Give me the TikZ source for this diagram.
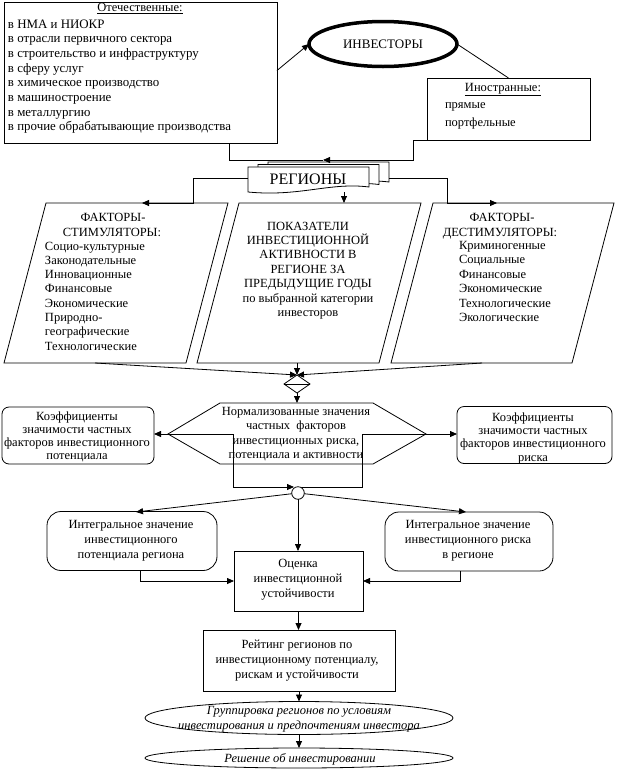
\documentclass[tikz,border=0pt]{standalone}
\usepackage{fontspec}
\setmainfont{Liberation Serif}
\usetikzlibrary{arrows.meta,shapes.geometric}
\begin{document}
\begin{tikzpicture}[x=1pt,y=-1pt,
  every node/.style={inner sep=0pt, outer sep=0pt},
  lw/.style={line width=0.8pt},
  box/.style={draw, lw, fill=white},
  rbox/.style={box, rounded corners=7pt},
  ibox/.style={box, rounded corners=14pt},
  t/.style={anchor=base, font=\fontsize{12.5}{14.5}\selectfont},
  tl/.style={anchor=base west, font=\fontsize{12.5}{14.5}\selectfont},
  tld/.style={anchor=base west, font=\fontsize{12.9}{14.5}\selectfont},
  ti/.style={anchor=base, font=\fontsize{12.5}{14.5}\selectfont\itshape},
  arr/.style={lw, -{Triangle[length=7pt,width=6pt]}},
  con/.style={lw}
]
\useasboundingbox (0,0) rectangle (618,777);

% ---------- domestic investors
\node[box, minimum width=273, minimum height=141] (dom) at (140.5,72.5) {};
\node[t] (domt) at (140,11.5) {\underline{Отечественные:}};
\foreach \s [count=\i] in {в НМА и НИОКР,в отрасли первичного сектора,в строительство и инфраструктуру,в сферу услуг,в химическое производство,в машиностроение,в металлургию,в прочие обрабатывающие производства}
  \node[tld] (d\i) at (8,{28+14.7*(\i-1)}) {\s};

% ---------- investors
\node[draw, ellipse, line width=3.5pt, minimum width=148, minimum height=45, font=\fontsize{13}{15}\selectfont] (inv) at (383,44) {ИНВЕСТОРЫ};

% ---------- foreign investors
\node[box, minimum width=163, minimum height=62] (frn) at (508.5,109) {};
\node[t] (frt) at (503,91.5) {\underline{Иностранные:}};
\node[tl] (fr1) at (445,108) {прямые};
\node[tl] (fr2) at (445,126.5) {портфельные};

\draw[arr] ([yshift=2]dom.east) -- (inv.west);
\draw[con] (inv.east) -- (frn.north);

% ---------- regions (multi-document)
\foreach \d in {20,10,0}
  \draw[box, shift={(\d,-\d/4)}] (248,167) -- (369,167) -- (369,187)
    .. controls (330,182) and (300,197) .. (248,192) -- cycle;
\node[font=\fontsize{16}{18}\selectfont] (reg) at (308,179) {РЕГИОНЫ};

\coordinate (domS) at (229,143);
\coordinate (regin) at (323,160);
\draw[con] (domS) |- (regin);
\draw[arr] (frn.south west) -| (413,160) -- (regin);

% ---------- parallelograms
\draw[box] (46,203) -- (228,203) -- (186,363) -- (4,363) -- cycle;
\draw[box] (239,203) -- (421,203) -- (379,363) -- (197,363) -- cycle;
\draw[box] (433,203) -- (614,203) -- (572,363) -- (391,363) -- cycle;

\coordinate (regW) at (248,178);
\coordinate (regS) at (344,192);
\coordinate (regE) at (389,178);
\draw[arr] (regW) -| (193,203) -- (142,203);
\draw[arr] (regS) -- (344,203);
\draw[arr] (regE) -| (447,203) -- (497,203);

% left parallelogram text
\node[t] (pl1) at (113,221) {ФАКТОРЫ-};
\node[t] (pl2) at (112,236) {СТИМУЛЯТОРЫ:};
\foreach \s [count=\i] in {Социо-культурные,Законодательные,Инновационные,Финансовые,Экономические,Природно-,географические,Технологические}
  \node[tl] (pli\i) at (45,{250+14.3*(\i-1)}) {\s};

% middle parallelogram text
\foreach \s [count=\i] in {ПОКАЗАТЕЛИ,ИНВЕСТИЦИОННОЙ,АКТИВНОСТИ В,РЕГИОНЕ ЗА,ПРЕДЫДУЩИЕ ГОДЫ,по выбранной категории,инвесторов}
  \node[t] (pm\i) at (308,{230+14.4*(\i-1)}) {\s};

% right parallelogram text
\node[t] (pr1) at (502,221) {ФАКТОРЫ-};
\node[t] (pr2) at (500,236) {ДЕСТИМУЛЯТОРЫ:};
\foreach \s [count=\i] in {Криминогенные,Социальные,Финансовые,Экономические,Технологические,Экологические}
  \node[tl] (pri\i) at (459,{249+14.5*(\i-1)}) {\s};

% ---------- sort diamond
\coordinate (diaT) at (297,375);
\coordinate (diaB) at (297,393);
\draw[arr] (95,363) -- (diaT);
\draw[arr] (297,363) -- (diaT);
\draw[arr] (482,363) -- (diaT);
\draw[box] (diaT) -- (310,384) -- (diaB) -- (284,384) -- cycle;
\draw[con] (284,384) -- (310,384);

% ---------- hexagon
\coordinate (hexN) at (297,403);
\coordinate (hexW) at (168,434);
\coordinate (hexE) at (426,434);
\draw[box] (220,403) -- (373,403) -- (hexE) -- (373,464) -- (220,464) -- (hexW) -- cycle;
\draw[arr] (diaB) -- (hexN);

% ---------- coefficient boxes
\node[rbox, minimum width=152, minimum height=57] (cL) at (78,435.5) {};
\node[rbox, minimum width=155, minimum height=57] (cR) at (534.5,435) {};
\draw[arr] (hexW) -- (hexW -| cL.east);
\draw[arr] (hexE) -- (hexE -| cR.west);

\draw[arr] (hexW) -| (233,487) -- (294,487);
\draw[con] (hexE) -| (362,487) -- (298,487);

\node[t] (h1) at (296,415) {Нормализованные значения};
\node[t] (h2) at (296,429.5) {частных~ факторов};
\node[t] (h3) at (296,444) {инвестиционных риска,};
\node[t] (h4) at (296,458.5) {потенциала и активности};

\foreach \s [count=\i] in {Коэффициенты,значимости частных,факторов инвестиционного,потенциала}
  \node[t] (cl\i) at (77,{420+13.3*(\i-1)}) {\s};
\foreach \s [count=\i] in {Коэффициенты,значимости частных,факторов инвестиционного,риска}
  \node[t] (cr\i) at (533,{421+13.4*(\i-1)}) {\s};

% ---------- junction circle and integral values
\node[ibox, minimum width=170, minimum height=59] (iL) at (132,541) {};
\node[ibox, minimum width=168, minimum height=59] (iR) at (469,541.5) {};
\node[box, minimum width=129, minimum height=60] (otc) at (298.5,581) {};
\node[draw, lw, fill=white, circle, minimum size=12.6] (circ) at (298,493) {};
\draw[arr] (circ) -- (136,512);
\draw[arr] (circ) -- (466,512);
\draw[arr] (circ) -- (circ |- otc.north);

\draw[arr] ([xshift=8]iL.south) |- (otc.west);
\draw[arr] ([xshift=-9]iR.south) |- (otc.east);

\foreach \s [count=\i] in {Интегральное значение,инвестиционного,потенциала региона}
  \node[t] (il\i) at (131,{528+15*(\i-1)}) {\s};
\foreach \s [count=\i] in {Интегральное значение,инвестиционного риска,в регионе}
  \node[t] (ir\i) at (468,{528+15*(\i-1)}) {\s};
\foreach \s [count=\i] in {Оценка,инвестиционной,устойчивости}
  \node[t] (o\i) at (298,{567+15*(\i-1)}) {\s};

% ---------- rating and decisions
\node[box, minimum width=192, minimum height=61] (rat) at (299,660.5) {};
\draw[arr] (otc.south) -- (otc.south |- rat.north);
\node[t] (r1) at (297,648) {Рейтинг регионов по};
\node[t] (r2) at (297,663) {инвестиционному потенциалу,};
\node[t] (r3) at (297,678) {рискам и устойчивости};

\node[draw, lw, ellipse, minimum width=308, minimum height=33] (grp) at (299,718) {};
\node[draw, lw, ellipse, minimum width=308, minimum height=20] (dec) at (299,758) {};
\draw[arr] (rat.south) -- (grp.north);
\draw[arr] (grp.south) -- (dec.north);
\node[ti] (g1) at (299,714) {Группировка регионов по условиям};
\node[ti] (g2) at (299,729) {инвестирования и предпочтениям инвестора};
\node[ti] (dc1) at (300,762) {Решение об инвестировании};
\end{tikzpicture}
\end{document}
